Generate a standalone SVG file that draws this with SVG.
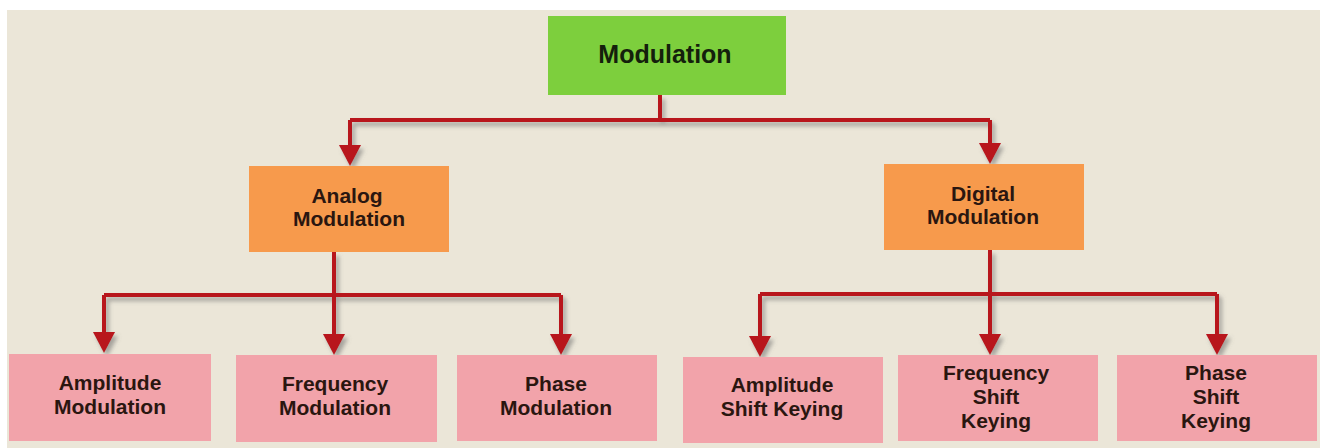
<svg xmlns="http://www.w3.org/2000/svg" width="1320" height="448" viewBox="0 0 1320 448">
<defs>
<style>
.bg{fill:#ebe6d8}
.green{fill:#7dcf3d}
.orange{fill:#f79a4c}
.pink{fill:#f2a3aa}
text{font-family:"Liberation Sans",Arial,sans-serif;font-weight:bold;fill:#2a1610;text-anchor:middle}
.t1{font-size:25px;fill:#14200c}
.t2{font-size:21px}
.conn{fill:none;stroke:#b8121a;stroke-width:4;stroke-linejoin:miter}
</style>
<marker id="ah" markerUnits="userSpaceOnUse" markerWidth="22" markerHeight="22" refX="13" refY="11" orient="auto" viewBox="0 0 22 22">
<path d="M0,0 L21,11 L0,22 Z" fill="#b8121a"/>
</marker>
<filter id="sh" x="-10%" y="-50%" width="120%" height="200%">
<feDropShadow dx="3" dy="4" stdDeviation="2" flood-color="#6b6b6b" flood-opacity="0.55"/>
</filter>
</defs>
<rect x="0" y="0" width="1320" height="448" fill="#ffffff"/>
<rect class="bg" x="7" y="10" width="1313" height="438"/>

<g id="connectors" filter="url(#sh)">
<path class="conn" d="M660,95 V120"/>
<path class="conn" d="M350,120 H990"/>
<path class="conn" d="M350,120 V158" marker-end="url(#ah)"/>
<path class="conn" d="M990,120 V156" marker-end="url(#ah)"/>
<path class="conn" d="M334,252 V295"/>
<path class="conn" d="M104,295 H561"/>
<path class="conn" d="M104,295 V345" marker-end="url(#ah)"/>
<path class="conn" d="M334,295 V347" marker-end="url(#ah)"/>
<path class="conn" d="M561,295 V347" marker-end="url(#ah)"/>
<path class="conn" d="M990,250 V294"/>
<path class="conn" d="M760,294 H1217"/>
<path class="conn" d="M760,294 V349" marker-end="url(#ah)"/>
<path class="conn" d="M990,294 V347" marker-end="url(#ah)"/>
<path class="conn" d="M1217,294 V347" marker-end="url(#ah)"/>
</g>

<g id="modulation">
<rect class="green" x="548" y="16" width="238" height="79"/>
<text class="t1" x="665" y="63">Modulation</text>
</g>
<g id="analog">
<rect class="orange" x="249" y="166" width="200" height="86"/>
<text class="t2" x="347" y="203">Analog</text>
<text class="t2" x="349" y="226">Modulation</text>
</g>
<g id="digital">
<rect class="orange" x="884" y="164" width="200" height="86"/>
<text class="t2" x="983" y="201">Digital</text>
<text class="t2" x="983" y="224">Modulation</text>
</g>
<g id="amplitude-modulation">
<rect class="pink" x="9" y="354" width="202" height="87"/>
<text class="t2" x="110" y="390">Amplitude</text>
<text class="t2" x="110" y="414">Modulation</text>
</g>
<g id="frequency-modulation">
<rect class="pink" x="236" y="355" width="201" height="87"/>
<text class="t2" x="335" y="391">Frequency</text>
<text class="t2" x="335" y="415">Modulation</text>
</g>
<g id="phase-modulation">
<rect class="pink" x="457" y="355" width="200" height="86"/>
<text class="t2" x="556" y="391">Phase</text>
<text class="t2" x="556" y="415">Modulation</text>
</g>
<g id="ask">
<rect class="pink" x="683" y="357" width="200" height="86"/>
<text class="t2" x="782" y="392">Amplitude</text>
<text class="t2" x="782" y="416">Shift Keying</text>
</g>
<g id="fsk">
<rect class="pink" x="898" y="355" width="200" height="86"/>
<text class="t2" x="996" y="380">Frequency</text>
<text class="t2" x="996" y="404">Shift</text>
<text class="t2" x="996" y="428">Keying</text>
</g>
<g id="psk">
<rect class="pink" x="1117" y="355" width="200" height="86"/>
<text class="t2" x="1216" y="380">Phase</text>
<text class="t2" x="1216" y="404">Shift</text>
<text class="t2" x="1216" y="428">Keying</text>
</g>
</svg>
